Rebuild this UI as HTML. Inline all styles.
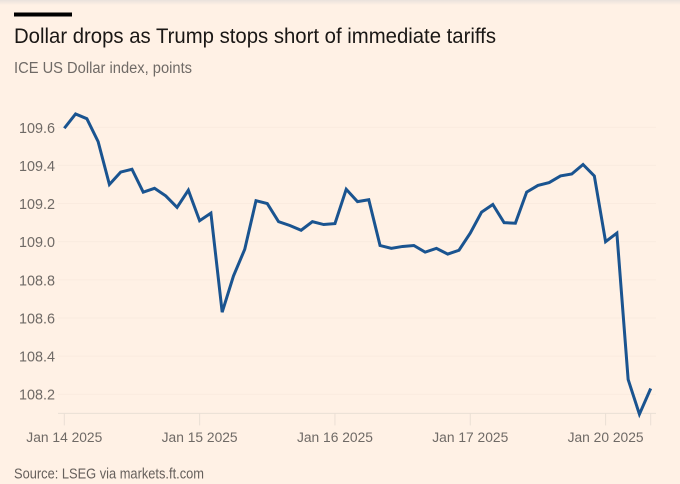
<!DOCTYPE html>
<html lang="en">
<head>
<meta charset="utf-8">
<title>Dollar drops as Trump stops short of immediate tariffs</title>
<style>
html,body{margin:0;padding:0;background:#fff1e5;}
body{width:680px;height:484px;overflow:hidden;position:relative;font-family:"Liberation Sans",sans-serif;}
svg{position:absolute;left:0;top:0;display:block;}
text{font-family:"Liberation Sans",sans-serif;}
</style>
</head>
<body>
<svg id="chart" width="680" height="484" viewBox="0 0 680 484" xmlns="http://www.w3.org/2000/svg">
  <defs>
    <linearGradient id="topfade" x1="0" y1="0" x2="0" y2="1">
      <stop offset="0" stop-color="#e9e2dc"/>
      <stop offset="1" stop-color="#fff1e5"/>
    </linearGradient>
  </defs>
  <rect x="0" y="0" width="680" height="484" fill="#fff1e5"/>
  <rect x="0" y="0" width="680" height="5" fill="url(#topfade)"/>
  <rect x="14" y="12.5" width="58" height="4" fill="#000000"/>
  <text x="14" y="43" font-size="21" fill="#1a1715" textLength="482" lengthAdjust="spacingAndGlyphs">Dollar drops as Trump stops short of immediate tariffs</text>
  <text x="14" y="73" font-size="15.5" fill="#6f6a66" textLength="178" lengthAdjust="spacingAndGlyphs">ICE US Dollar index, points</text>
  <g id="grid"></g>
  <g id="yaxis"></g>
  <g id="xaxis"></g>
  <path id="line" fill="none" stroke="#1a5490" stroke-width="3" stroke-linejoin="miter" stroke-linecap="butt"></path>
  <text x="14" y="478.5" font-size="14.6" fill="#66605c" textLength="190" lengthAdjust="spacingAndGlyphs">Source: LSEG via markets.ft.com</text>
</svg>
<script>
const seriesValues = [
  109.595,109.67,109.645,109.525,109.30,109.365,109.38,109.26,109.28,109.24,
  109.18,109.27,109.11,109.15,108.63,108.82,108.96,109.215,109.20,109.105,
  109.085,109.06,109.105,109.09,109.095,109.275,109.21,109.22,108.98,108.965,
  108.975,108.98,108.945,108.965,108.935,108.955,109.045,109.155,109.195,109.10,
  109.097,109.26,109.295,109.31,109.345,109.355,109.405,109.345,109.00,109.045,
  108.277,108.095,108.23
];
const yTickValues = [108.2,108.4,108.6,108.8,109.0,109.2,109.4,109.6];
const xTickLabels = ["Jan 14 2025","Jan 15 2025","Jan 16 2025","Jan 17 2025","Jan 20 2025",""];
const xTickSessions = [0,12,24,36,48,52];

const NS = "http://www.w3.org/2000/svg";
const xScale = function (i) { return 64.3 + i * (586.4 / 52); };
const yScale = function (v) { return 127.3 + (109.6 - v) * (266.9 / 1.4); };
const BASE_Y = 413.4;

const grid = document.getElementById("grid");
const yaxis = document.getElementById("yaxis");
const xaxis = document.getElementById("xaxis");

yTickValues.forEach(function (v) {
  const gl = document.createElementNS(NS, "line");
  
  
  gl.setAttribute("x1", 58);
  gl.setAttribute("x2", 656);
  gl.setAttribute("y1", yScale(v));
  gl.setAttribute("y2", yScale(v));
  gl.setAttribute("stroke", "#faebdf");
  gl.setAttribute("stroke-width", 1);
  grid.appendChild(gl);

  const tl = document.createElementNS(NS, "text");
  
  
  tl.setAttribute("x", 55);
  tl.setAttribute("y", yScale(v) + 5.5);
  tl.setAttribute("text-anchor", "end");
  tl.setAttribute("font-size", 14.8);
  tl.setAttribute("fill", "#6f6a66");
  tl.setAttribute("textLength", 36);
  tl.setAttribute("lengthAdjust", "spacingAndGlyphs");
  tl.textContent = v.toFixed(1);
  yaxis.appendChild(tl);
});

const axisLine = document.createElementNS(NS, "line");


axisLine.setAttribute("x1", 58);
axisLine.setAttribute("x2", 656);
axisLine.setAttribute("y1", BASE_Y);
axisLine.setAttribute("y2", BASE_Y);
axisLine.setAttribute("stroke", "#eadfd5");
axisLine.setAttribute("stroke-width", 1);
xaxis.appendChild(axisLine);

xTickSessions.forEach(function (s, k) {
  const t = document.createElementNS(NS, "line");
  
  
  t.setAttribute("x1", xScale(s));
  t.setAttribute("x2", xScale(s));
  t.setAttribute("y1", BASE_Y);
  t.setAttribute("y2", BASE_Y + 12);
  t.setAttribute("stroke", "#eadfd5");
  t.setAttribute("stroke-width", 1);
  xaxis.appendChild(t);

  if (xTickLabels[k]) {
    const l = document.createElementNS(NS, "text");
    
    
    l.setAttribute("x", xScale(s));
    l.setAttribute("y", 442);
    l.setAttribute("text-anchor", "middle");
    l.setAttribute("font-size", 14.2);
    l.setAttribute("fill", "#6f6a66");
    l.setAttribute("textLength", 76);
    l.setAttribute("lengthAdjust", "spacingAndGlyphs");
    l.textContent = xTickLabels[k];
    xaxis.appendChild(l);
  }
});

document.getElementById("line").setAttribute("d", seriesValues.map(function (v, i) {
  return (i ? "L" : "M") + xScale(i).toFixed(2) + " " + yScale(v).toFixed(2);
}).join(" "));
</script>
</body>
</html>
